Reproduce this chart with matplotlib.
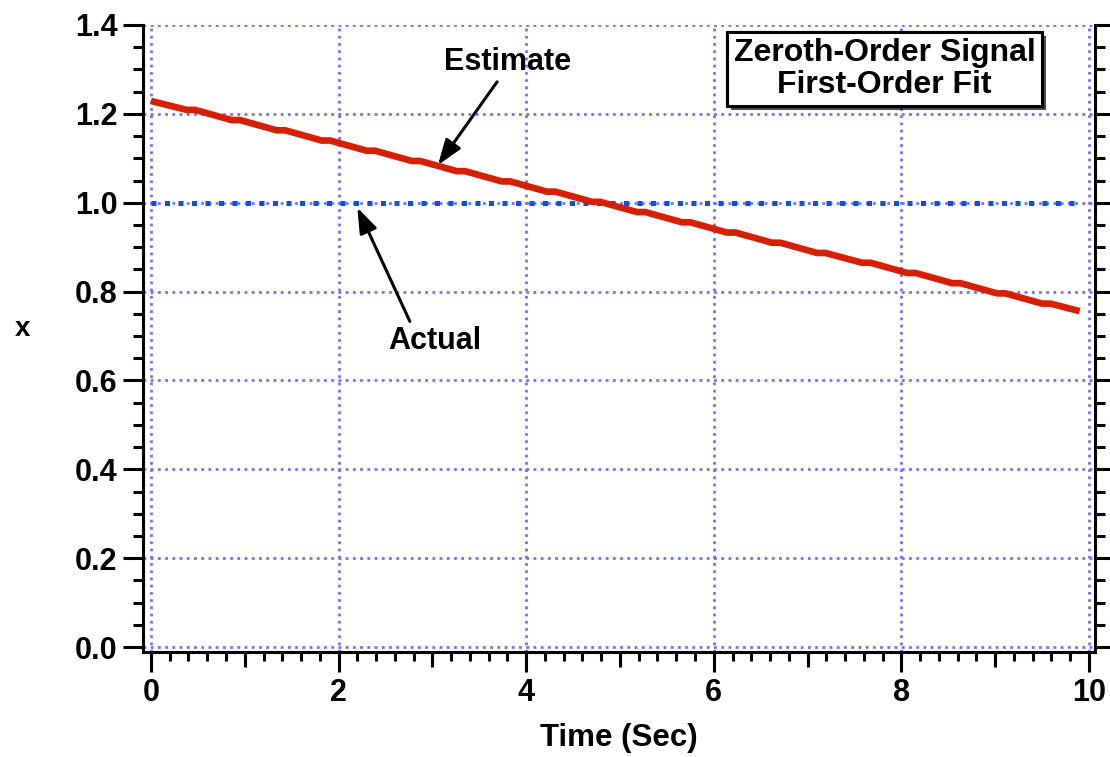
import matplotlib.pyplot as plt
import matplotlib.patheffects as pe
from matplotlib.ticker import MultipleLocator

plt.rcParams["font.family"] = ["Liberation Sans", "DejaVu Sans"]
plt.rcParams["font.weight"] = "bold"

# first-order fit (stepped, as sampled)
est_t = [0.0, 0.38, 0.47, 0.86, 0.95, 1.34, 1.43, 1.82, 1.91, 2.30, 2.39,
         2.78, 2.87, 3.26, 3.35, 3.74, 3.83, 4.22, 4.31, 4.70, 4.79, 5.18,
         5.27, 5.66, 5.75, 6.14, 6.23, 6.62, 6.71, 7.10, 7.19, 7.58, 7.67,
         8.06, 8.15, 8.54, 8.63, 9.02, 9.11, 9.50, 9.59, 9.90]
est_x = [1.229, 1.209, 1.209, 1.186, 1.186, 1.163, 1.163, 1.140, 1.140,
         1.117, 1.117, 1.094, 1.094, 1.071, 1.071, 1.048, 1.048, 1.025,
         1.025, 1.002, 1.002, 0.979, 0.979, 0.956, 0.956, 0.933, 0.933,
         0.910, 0.910, 0.887, 0.887, 0.865, 0.865, 0.842, 0.842, 0.819,
         0.819, 0.796, 0.796, 0.773, 0.773, 0.756]

# zeroth-order signal
act_t = [0.0, 9.9]
act_x = [1.0, 1.0]

fig = plt.figure(figsize=(11.1, 7.57), dpi=100)
ax = fig.add_axes([0.1288, 0.1387, 0.8577, 0.8283])

ax.plot(act_t, act_x, color="#0d4fe0", lw=3.6, linestyle=(0, (1, 1.7)),
        dash_capstyle="butt", zorder=3)
ax.plot(est_t, est_x, color="#d61f00", lw=4.8, solid_capstyle="butt",
        solid_joinstyle="round", zorder=4)

ax.set_xlim(-0.085, 10.064)
ax.set_ylim(-0.011, 1.4)
ax.xaxis.set_major_locator(MultipleLocator(2))
ax.xaxis.set_minor_locator(MultipleLocator(0.2))
ax.yaxis.set_major_locator(MultipleLocator(0.2))
ax.yaxis.set_minor_locator(MultipleLocator(0.05))
ax.set_yticks([0, 0.2, 0.4, 0.6, 0.8, 1.0, 1.2, 1.4])
ax.set_yticklabels(["0.0", "0.2", "0.4", "0.6", "0.8", "1.0", "1.2", "1.4"])

ax.grid(True, which="major", color="#7070ff", linestyle=(0, (1, 1.6)), lw=2.0)

for s in ["left", "right", "bottom"]:
    ax.spines[s].set_linewidth(2.2)
ax.spines["top"].set_visible(False)

ax.tick_params(which="both", direction="out", width=2.2, left=True,
               right=True, bottom=True, top=False, labelsize=22)
ax.tick_params(which="major", length=14.4, pad=4)
ax.tick_params(which="minor", length=7.2)
ax.tick_params(axis="x", which="minor", length=6.5)

# medium ticks at odd seconds
sec = ax.secondary_xaxis("bottom")
sec.set_xticks([1, 3, 5, 7, 9])
sec.tick_params(length=11, width=2.2, labelbottom=False)
sec.spines["bottom"].set_visible(False)

ax.set_xlabel("Time (Sec)", fontsize=22.5, fontweight="bold", labelpad=11)
ax.set_ylabel("x", fontsize=20, fontweight="heavy", rotation=0,
              va="center", ha="center")
ax.yaxis.set_label_coords(-0.127, 0.515)

arrow = dict(arrowstyle="-|>,head_length=0.7,head_width=0.25", lw=2.2,
             color="black", mutation_scale=22, shrinkA=0, shrinkB=0)
ax.annotate("", xy=(3.06, 1.085), xytext=(3.69, 1.272), arrowprops=arrow)
ax.text(3.80, 1.317, "Estimate", fontsize=22, fontweight="bold",
        ha="center", va="center")
ax.annotate("", xy=(2.20, 0.989), xytext=(2.76, 0.733), arrowprops=arrow)
ax.text(3.03, 0.688, "Actual", fontsize=22, fontweight="bold",
        ha="center", va="center")

box = ax.text(7.82, 1.301, "Zeroth-Order Signal\nFirst-Order Fit",
              fontsize=23, fontweight="bold", ha="center", va="center",
              linespacing=1.05, zorder=6,
              bbox=dict(boxstyle="square,pad=0.2", fc="white", ec="black",
                        lw=2.2))
box.get_bbox_patch().set_path_effects(
    [pe.withSimplePatchShadow(offset=(3, -3), shadow_rgbFace="black",
                              alpha=0.7), pe.Normal()])

fig.savefig("out.png", dpi=100)
